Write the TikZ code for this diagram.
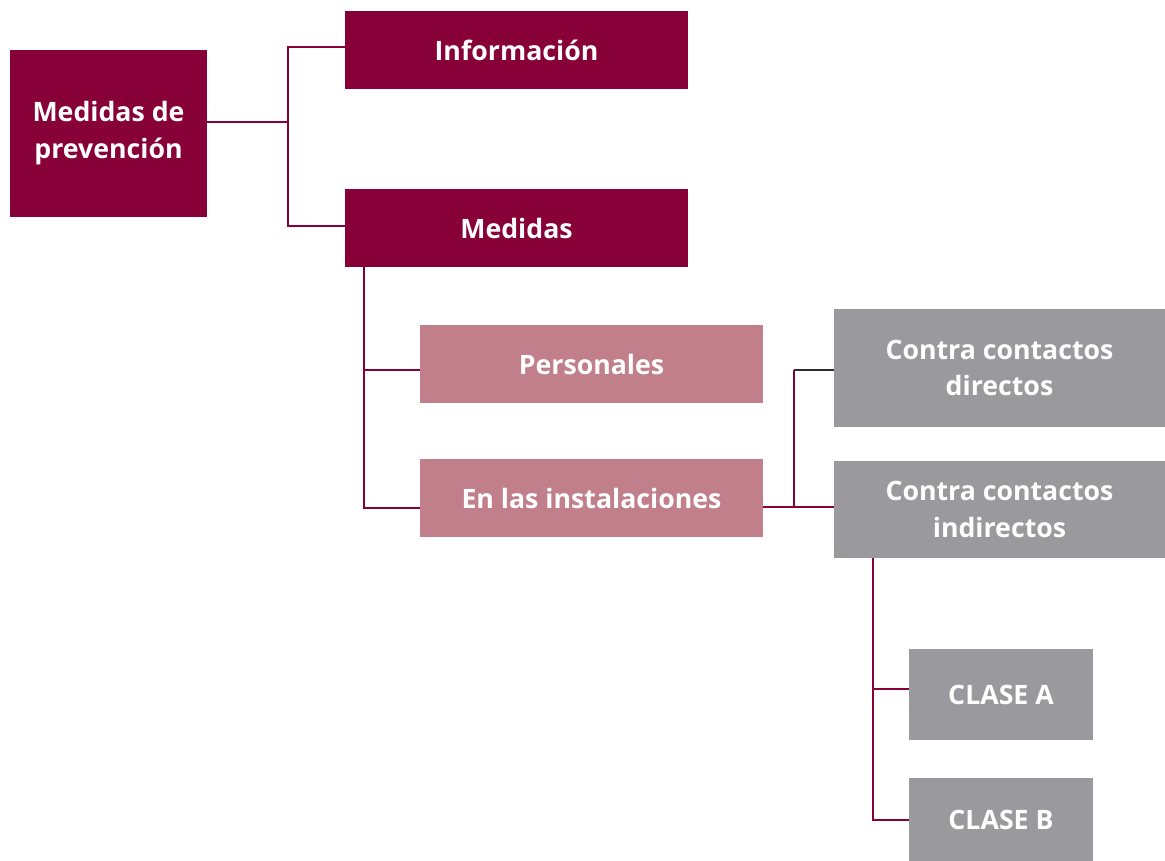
\documentclass[tikz,border=0pt]{standalone}
\usepackage{fontspec}
\setmainfont{Open Sans}
\definecolor{granate}{HTML}{870038}
\definecolor{rosa}{HTML}{C07F8A}
\definecolor{gris}{HTML}{9A999E}
\definecolor{oscuro}{HTML}{2B2B33}
\tikzset{
  caja/.style={inner sep=0pt, align=center, text=white, font=\fontsize{15.2}{21}\selectfont\bfseries},
  link/.style={granate, line width=1.5pt}
}
\begin{document}
\begin{tikzpicture}[x=0.02cm, y=-0.02cm]
        \useasboundingbox (0,0) rectangle (1165,861);
        % Boxes
        \node[caja, fill=granate, minimum width=3.94cm, minimum height=3.34cm] (prev) at (108.5,133.5) {Medidas de\\prevención};
        \node[caja, fill=granate, minimum width=6.86cm, minimum height=1.56cm] (info) at (516.5,50) {Información};
        \node[caja, fill=granate, minimum width=6.86cm, minimum height=1.56cm] (medidas) at (516.5,228) {Medidas};
        \node[caja, fill=rosa, minimum width=6.86cm, minimum height=1.56cm] (pers) at (591.5,364) {Personales};
        \node[caja, fill=rosa, minimum width=6.86cm, minimum height=1.56cm] (inst) at (591.5,498) {En las instalaciones};
        \node[caja, fill=gris, minimum width=6.62cm, minimum height=2.36cm] (directos) at (999.5,368) {Contra contactos\\directos};
        \node[caja, fill=gris, minimum width=6.62cm, minimum height=1.94cm] (indirectos) at (999.5,509.5) {Contra contactos\\indirectos};
        \node[caja, fill=gris, minimum width=3.68cm, minimum height=1.82cm] (claseA) at (1001,694.5) {CLASE A};
        \node[caja, fill=gris, minimum width=3.68cm, minimum height=1.66cm] (claseB) at (1001,819.5) {CLASE B};

        % Bus points
        \coordinate (b1) at (288,122);
        \coordinate (b2) at (364,370);
        \coordinate (b3) at (794,507);
        \coordinate (b4) at (873,689);

        % Connectors
        \draw[link] (prev.east |- b1) -- (b1);
        \draw[link] (info.west |- 0,47) -| (b1) |- (medidas.west |- 0,226);
        \draw[link] (b2 |- medidas.south) |- (pers.west |- b2);
        \draw[link] (b2) |- (inst.west |- 0,508);
        \draw[link] (inst.east |- b3) -- (indirectos.west |- b3);
        \draw[link] (b3) -- (b3 |- 0,370);
        \draw[oscuro, line width=1.5pt] (b3 |- 0,370) -- (directos.west |- 0,370);
        \draw[link] (b4 |- indirectos.south) |- (claseA.west |- b4);
        \draw[link] (b4) |- (claseB.west |- 0,820);
    \end{tikzpicture}
\end{document}
